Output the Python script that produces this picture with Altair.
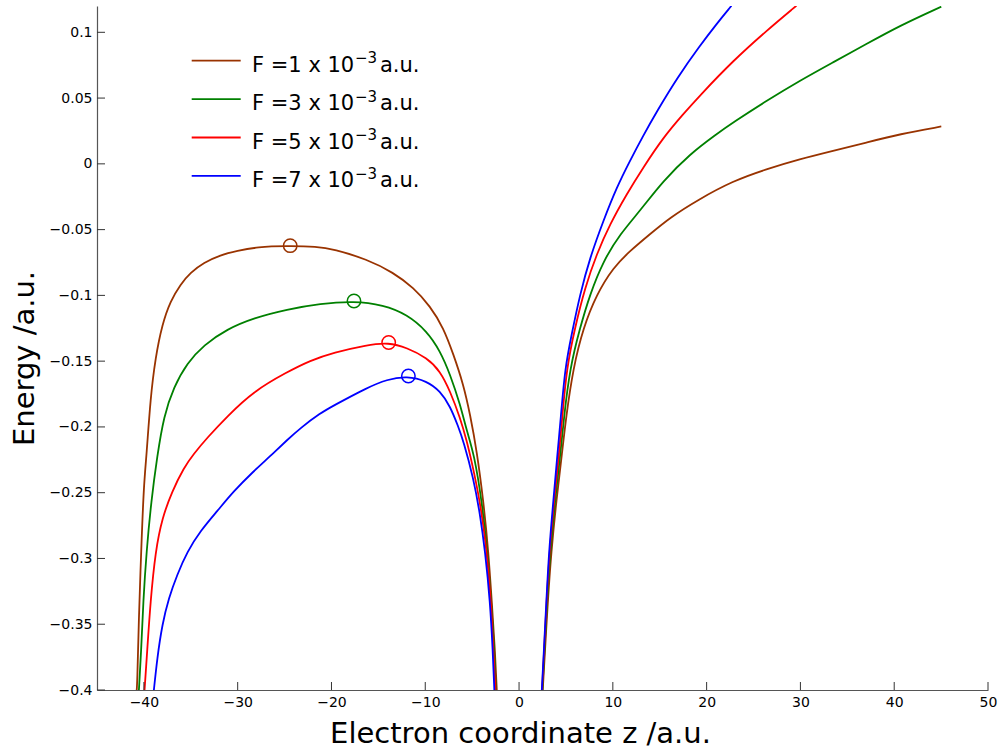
import altair as alt
import pandas as pd

# Field strengths (in units of 1e-3 a.u.) and line colours
fields = ["1", "3", "5", "7"]
colors = ["#993300", "#008000", "#ff0000", "#0000ff"]

# Potential-energy curves: left (z < 0) and right (z > 0) branches
z1_left = [-40.78, -40.71, -40.54, -40.29, -40.01, -39.72, -39.30, -38.77, -38.05, -37.17,
           -36.10, -35.04, -33.62, -31.84, -30.06, -27.93, -24.74, -21.54, -19.78, -16.22,
           -13.39, -11.26, -9.48, -8.06, -7.00, -5.93, -5.22, -4.50, -3.80, -3.27, -2.91,
           -2.56, -2.37]
e1_left = [-0.401, -0.396, -0.345, -0.2945, -0.2438, -0.222, -0.1779, -0.1474, -0.1220, -0.1043,
           -0.0916, -0.0827, -0.0751, -0.0693, -0.0662, -0.0632, -0.0624, -0.0629, -0.0649, -0.0725,
           -0.0827, -0.0941, -0.1081, -0.1246, -0.1448, -0.1677, -0.1905, -0.2184, -0.2565, -0.2945,
           -0.3326, -0.3706, -0.401]
z1_right = [2.52, 3.06, 3.44, 3.97, 4.61, 5.00, 5.78, 6.85, 8.27, 10.04, 11.82, 13.95, 16.08,
            19.06, 22.82, 26.38, 29.93, 33.47, 37.03, 40.58, 45.02]
e1_right = [-0.401, -0.3326, -0.2945, -0.2565, -0.2184, -0.1931, -0.155, -0.1246, -0.0992, -0.0789,
            -0.0662, -0.0535, -0.0409, -0.0274, -0.0129, -0.0040, 0.0036, 0.0099, 0.0162, 0.0226,
            0.0284]

z3_left = [-40.54, -40.29, -40.07, -39.72, -39.22, -38.58, -37.88, -36.82, -35.39, -33.62,
           -31.13, -28.30, -24.74, -21.19, -17.65, -14.45, -11.96, -9.83, -8.41, -7.35, -6.28,
           -5.57, -4.79, -3.97, -3.38, -2.98, -2.63, -2.48]
e3_left = [-0.401, -0.3706, -0.3326, -0.2945, -0.2565, -0.2222, -0.1918, -0.1697, -0.1514, -0.1377,
           -0.1256, -0.1172, -0.1106, -0.1063, -0.1043, -0.1073, -0.1144, -0.1271, -0.1423, -0.1600,
           -0.1829, -0.2032, -0.2207, -0.2565, -0.2945, -0.3326, -0.3706, -0.401]
z3_right = [2.48, 2.98, 3.33, 3.83, 4.44, 4.78, 5.43, 6.50, 7.56, 8.98, 10.76, 12.89, 15.37,
            18.21, 21.05, 22.82, 26.38, 29.93, 33.47, 37.03, 40.58, 45.02]
e3_right = [-0.401, -0.3326, -0.2945, -0.2565, -0.2184, -0.1931, -0.155, -0.1246, -0.0992, -0.0738,
            -0.0535, -0.0358, -0.0129, 0.0074, 0.0226, 0.0314, 0.0479, 0.0632, 0.0771, 0.0911,
            0.1050, 0.1195]

z5_left = [-39.94, -39.65, -39.30, -38.77, -38.05, -36.99, -35.75, -34.72, -33.26, -31.13,
           -28.30, -24.74, -22.26, -19.78, -16.22, -13.92, -11.96, -9.83, -8.41, -7.35, -6.28,
           -5.57, -5.11, -4.15, -3.44, -2.98, -2.74, -2.50]
e5_left = [-0.401, -0.3706, -0.3326, -0.2945, -0.2692, -0.2489, -0.2311, -0.2207, -0.2083, -0.1920,
           -0.1728, -0.1583, -0.1495, -0.1435, -0.1377, -0.1358, -0.1398, -0.1474, -0.1575, -0.1728,
           -0.1931, -0.2108, -0.2245, -0.2565, -0.2945, -0.3326, -0.3706, -0.401]
z5_right = [2.45, 2.93, 3.25, 3.73, 4.29, 4.60, 5.08, 5.96, 7.03, 8.27, 9.69, 11.47, 13.24,
            15.37, 17.50, 19.28, 22.82, 26.38, 29.57]
e5_right = [-0.401, -0.3326, -0.2945, -0.2565, -0.2184, -0.1931, -0.155, -0.1246, -0.0941, -0.0687,
            -0.0459, -0.0231, -0.0028, 0.0200, 0.0378, 0.0520, 0.0784, 0.1012, 0.1202]

z7_left = [-38.95, -38.58, -38.05, -37.35, -36.45, -35.39, -33.97, -32.19, -30.43, -28.30,
           -26.52, -24.74, -23.32, -21.19, -19.78, -16.22, -14.09, -11.96, -9.83, -8.41, -7.35,
           -6.50, -5.93, -4.87, -4.15, -3.62, -3.09, -2.80, -2.63]
e7_left = [-0.401, -0.3757, -0.3503, -0.3301, -0.3123, -0.2950, -0.2790, -0.2641, -0.2489, -0.2336,
           -0.2222, -0.2100, -0.2009, -0.1895, -0.1838, -0.1702, -0.1639, -0.1613, -0.1651, -0.1728,
           -0.1842, -0.1994, -0.2108, -0.2387, -0.2666, -0.2945, -0.3326, -0.3706, -0.401]
z7_right = [2.42, 2.59, 2.91, 3.19, 3.65, 4.12, 4.45, 4.90, 5.61, 6.50, 7.56, 8.98, 10.40,
            11.82, 13.24, 14.66, 16.93, 19.28, 21.05, 22.65]
e7_right = [-0.401, -0.3782, -0.3326, -0.2945, -0.2565, -0.2184, -0.1931, -0.155, -0.1296, -0.0992,
            -0.0713, -0.0434, -0.0180, 0.0023, 0.0215, 0.0395, 0.0662, 0.0898, 0.1063, 0.1202]

# Saddle-point maxima marked with open circles
peak_z = [-24.4, -17.6, -13.9, -11.8]
peak_e = [-0.0622, -0.1043, -0.1358, -0.1613]

x_ticks = [-40, -30, -20, -10, 0, 10, 20, 30, 40, 50]
y_ticks = [-0.4, -0.35, -0.3, -0.25, -0.2, -0.15, -0.1, -0.05, 0, 0.05, 0.1]

branches = {
    "1": [(z1_left, e1_left), (z1_right, e1_right)],
    "3": [(z3_left, e3_left), (z3_right, e3_right)],
    "5": [(z5_left, e5_left), (z5_right, e5_right)],
    "7": [(z7_left, e7_left), (z7_right, e7_right)],
}

FONT = "DejaVu Sans"
W, H = 891, 684

xscale = alt.Scale(domain=[-45, 50], nice=False, zero=False)
yscale = alt.Scale(domain=[-0.4, 0.12], nice=False, zero=False)

x_axis = alt.Axis(
    values=x_ticks, format="d", ticks=False, tickSize=0, labelPadding=5,
    labelFontSize=14, labelFont=FONT, labelColor="black", labelFlush=False,
    labelOverlap=False, domainColor="#555", domainWidth=1.2, grid=False,
    title="Electron coordinate z /a.u.", titleFontSize=29, titleFont=FONT,
    titleFontWeight="normal", titleColor="black", titleX=423, titleY=52,
    titleBaseline="alphabetic", titleAlign="center",
)
y_axis = alt.Axis(
    values=y_ticks, format="~g", ticks=False, tickSize=0, labelPadding=5,
    labelFontSize=14, labelFont=FONT, labelColor="black", labelFlush=False,
    labelOverlap=False, domainColor="#555", domainWidth=1.2, grid=False,
    title="Energy /a.u.", titleFontSize=29, titleFont=FONT,
    titleFontWeight="normal", titleColor="black", titleX=-63.5, titleY=352,
    titleAngle=270, titleBaseline="alphabetic", titleAlign="center",
)


def xenc(field):
    return alt.X(field, scale=xscale, axis=x_axis)


def yenc(field):
    return alt.Y(field, scale=yscale, axis=y_axis)


layers = []
for f, col in zip(fields, colors):
    rows = []
    for b, (zs, es) in enumerate(branches[f]):
        for z, e in zip(zs, es):
            rows.append({"branch": b, "z": z, "E": e})
    df = pd.DataFrame(rows)
    layers.append(
        alt.Chart(df).mark_line(color=col, strokeWidth=1.8, interpolate="basis", clip=True)
        .encode(x=xenc("z:Q"), y=yenc("E:Q"), detail="branch:N")
    )

peaks = pd.DataFrame({"z": peak_z, "E": peak_e, "col": colors})
layers.append(
    alt.Chart(peaks).mark_point(shape="circle", filled=False, size=180, strokeWidth=1.5, opacity=1)
    .encode(x=xenc("z:Q"), y=yenc("E:Q"), color=alt.Color("col:N", scale=None))
)

# Inward-pointing tick marks
layers.append(
    alt.Chart(pd.DataFrame({"v": y_ticks})).mark_rule(color="#333", strokeWidth=1)
    .encode(y=yenc("v:Q"), x=alt.value(0), x2=alt.value(8))
)
layers.append(
    alt.Chart(pd.DataFrame({"v": x_ticks})).mark_rule(color="#333", strokeWidth=1)
    .encode(x=xenc("v:Q"), y=alt.value(H), y2=alt.value(H - 8))
)

# Legend drawn in the upper-left corner
legend_df = pd.DataFrame({"field": fields, "col": colors, "row": list(range(len(fields)))})
legend = alt.Chart(legend_df).transform_calculate(
    ly="54.7 + 38.4 * datum.row",
    ty="54.7 + 38.4 * datum.row + 11",
    sy="54.7 + 38.4 * datum.row + 2.6",
    main="'F =' + datum.field + ' x 10'",
)
layers.append(
    legend.mark_rule(strokeWidth=1.8).encode(
        y=alt.Y("ly:Q", scale=None),
        x=alt.value(94.7), x2=alt.value(143.7),
        color=alt.Color("col:N", scale=None),
    )
)
layers.append(
    legend.mark_text(align="left", baseline="alphabetic", font=FONT, fontSize=21, color="black")
    .encode(x=alt.value(155), y=alt.Y("ty:Q", scale=None), text="main:N")
)
layers.append(
    legend.mark_text(align="left", baseline="alphabetic", font=FONT, fontSize=15, color="black")
    .encode(x=alt.value(258), y=alt.Y("sy:Q", scale=None), text=alt.value("−3"))
)
layers.append(
    legend.mark_text(align="left", baseline="alphabetic", font=FONT, fontSize=21, color="black")
    .encode(x=alt.value(283), y=alt.Y("ty:Q", scale=None), text=alt.value("a.u."))
)

chart = (
    alt.layer(*layers)
    .properties(
        width=W, height=H, autosize="none",
        padding={"left": 97, "top": 6, "right": 16, "bottom": 59},
        background="white",
    )
    .configure_view(stroke=None)
)

chart.save("out.html", embed_options={"renderer": "svg", "actions": False})
